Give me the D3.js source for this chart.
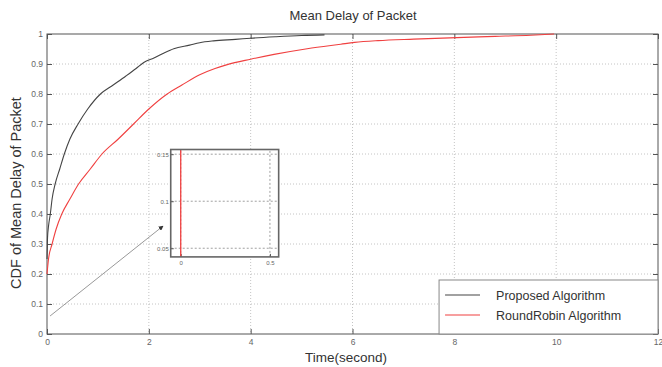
<!DOCTYPE html>
<html>
<head>
<meta charset="utf-8">
<script src="https://cdn.jsdelivr.net/npm/d3@7"></script>
<style>
  body { margin: 0; background: #fff; }
  text { font-family: "Liberation Sans", Arial, sans-serif; }
</style>
</head>
<body>
<div id="chart"></div>
<script>
// data
var xTicks = [0, 2, 4, 6, 8, 10, 12];
var yTicks = [0, 0.1, 0.2, 0.3, 0.4, 0.5, 0.6, 0.7, 0.8, 0.9, 1];
var proposedT = [0, 0.005, 0.01, 0.03, 0.065, 0.1, 0.16, 0.25, 0.34, 0.45, 0.61, 0.8, 1.05, 1.3, 1.55, 1.75, 1.9, 2.1, 2.3, 2.49, 2.8, 3.0, 3.27, 3.7, 4.0, 4.5, 5.0, 5.45];
var proposedY = [0.25, 0.28, 0.32, 0.36, 0.40, 0.45, 0.50, 0.55, 0.60, 0.65, 0.70, 0.75, 0.80, 0.83, 0.86, 0.885, 0.905, 0.92, 0.937, 0.951, 0.963, 0.971, 0.977, 0.982, 0.986, 0.991, 0.995, 0.997];
var rrT = [0, 0.03, 0.1, 0.18, 0.29, 0.45, 0.62, 0.85, 1.08, 1.4, 1.7, 2.0, 2.36, 2.65, 3.01, 3.3, 3.54, 4.0, 4.46, 5.11, 5.77, 6.04, 6.5, 7.2, 8.05, 8.8, 9.5, 9.96];
var rrY = [0.2, 0.25, 0.3, 0.35, 0.4, 0.45, 0.5, 0.55, 0.6, 0.65, 0.7, 0.75, 0.8, 0.83, 0.865, 0.885, 0.898, 0.916, 0.932, 0.951, 0.966, 0.972, 0.978, 0.983, 0.988, 0.992, 0.996, 1.0];
var insetXTicks = [0, 0.5];
var insetYTicks = [0.05, 0.1, 0.15];
var insetT = [0, 0];
var insetY = [0.0408, 0.155];
var seriesNames = ["Proposed Algorithm", "RoundRobin Algorithm"];
var seriesColors = ["#444", "#f04040"];

var W = 662, H = 367;
var margin = {top: 34, left: 47, right: 4, bottom: 33};
var width = W - margin.left - margin.right,
    height = H - margin.top - margin.bottom;

var svg = d3.select("#chart").append("svg")
  .attr("width", W).attr("height", H);

var g = svg.append("g")
  .attr("transform", "translate(" + margin.left + "," + margin.top + ")");

var x = d3.scaleLinear().domain([0, 12]).range([0, width]);
var y = d3.scaleLinear().domain([0, 1]).range([height, 0]);

// dotted grid
g.append("g").selectAll("line").data(xTicks.slice(1, -1)).enter().append("line")
  .attr("x1", function(d){ return x(d); }).attr("x2", function(d){ return x(d); })
  .attr("y1", 0).attr("y2", height)
  .attr("stroke", "#b5b5b5").attr("stroke-width", 0.8).attr("stroke-dasharray", "1,2");
g.append("g").selectAll("line").data(yTicks.slice(1, -1)).enter().append("line")
  .attr("y1", function(d){ return y(d); }).attr("y2", function(d){ return y(d); })
  .attr("x1", 0).attr("x2", width)
  .attr("stroke", "#b5b5b5").attr("stroke-width", 0.8).attr("stroke-dasharray", "1,2");

// axes with inward ticks
function styleAxis(sel, labels){
  sel.select(".domain").remove();
  sel.selectAll("line").attr("stroke", "#555");
  sel.selectAll("text").attr("fill", "#666").style("font-size", "8.5px");
  if (!labels) sel.selectAll("text").remove();
}
g.append("g").attr("transform", "translate(0," + height + ")")
  .call(d3.axisBottom(x).tickValues(xTicks).tickSize(-5).tickPadding(5).tickFormat(d3.format("")))
  .call(styleAxis, true);
g.append("g")
  .call(d3.axisLeft(y).tickValues(yTicks).tickSize(-5).tickPadding(4).tickFormat(d3.format("")))
  .call(styleAxis, true);
g.append("g")
  .call(d3.axisTop(x).tickValues(xTicks).tickSize(-5))
  .call(styleAxis, false);
g.append("g").attr("transform", "translate(" + width + ",0)")
  .call(d3.axisRight(y).tickValues(yTicks).tickSize(-5))
  .call(styleAxis, false);

g.append("rect").attr("width", width).attr("height", height)
  .attr("fill", "none").attr("stroke", "#555").attr("stroke-width", 1);

// curves
var line = d3.line()
  .curve(d3.curveMonotoneX)
  .x(function(d){ return x(d[0]); })
  .y(function(d){ return y(d[1]); });

g.append("path").datum(d3.zip(rrT, rrY))
  .attr("d", line).attr("fill", "none").attr("stroke", seriesColors[1]).attr("stroke-width", 1.1);
g.append("path").datum(d3.zip(proposedT, proposedY))
  .attr("d", line).attr("fill", "none").attr("stroke", seriesColors[0]).attr("stroke-width", 1.1);

// arrow
svg.append("defs").append("marker")
  .attr("id", "arrow").attr("viewBox", "0 0 10 10")
  .attr("refX", 9).attr("refY", 5)
  .attr("markerWidth", 5).attr("markerHeight", 5)
  .attr("orient", "auto")
  .append("path").attr("d", "M0,0L10,5L0,10z").attr("fill", "#333");

g.append("line")
  .attr("x1", x(0.06)).attr("y1", y(0.06))
  .attr("x2", x(2.28)).attr("y2", y(0.36))
  .attr("stroke", "#999").attr("stroke-width", 1)
  .attr("marker-end", "url(#arrow)");

// inset
var ix = d3.scaleLinear().domain([-0.056, 0.549]).range([x(2.43), x(4.55)]);
var iy = d3.scaleLinear().domain([insetY[0], insetY[1]]).range([y(0.257), y(0.615)]);
var inset = g.append("g");
inset.append("rect")
  .attr("x", ix.range()[0]).attr("y", iy.range()[1])
  .attr("width", ix.range()[1] - ix.range()[0]).attr("height", iy.range()[0] - iy.range()[1])
  .attr("fill", "#fff");
inset.append("g").selectAll("line").data(insetYTicks).enter().append("line")
  .attr("x1", ix.range()[0]).attr("x2", ix.range()[1])
  .attr("y1", function(d){ return iy(d); }).attr("y2", function(d){ return iy(d); })
  .attr("stroke", "#888").attr("stroke-width", 0.8).attr("stroke-dasharray", "2,2");
inset.append("g").selectAll("line").data(insetXTicks).enter().append("line")
  .attr("y1", iy.range()[0]).attr("y2", iy.range()[1])
  .attr("x1", function(d){ return ix(d); }).attr("x2", function(d){ return ix(d); })
  .attr("stroke", "#888").attr("stroke-width", 0.8).attr("stroke-dasharray", "2,2");
inset.append("g").attr("transform", "translate(0," + iy.range()[0] + ")")
  .call(d3.axisBottom(ix).tickValues(insetXTicks).tickSize(-3).tickPadding(4).tickFormat(d3.format("")))
  .call(function(s){ s.select(".domain").remove(); s.selectAll("text").attr("fill", "#666").style("font-size", "6px"); s.selectAll("line").attr("stroke", "#555"); });
inset.append("g").attr("transform", "translate(" + ix.range()[0] + ",0)")
  .call(d3.axisLeft(iy).tickValues(insetYTicks).tickSize(-3).tickPadding(2).tickFormat(d3.format("")))
  .call(function(s){ s.select(".domain").remove(); s.selectAll("text").attr("fill", "#666").style("font-size", "6px"); s.selectAll("line").attr("stroke", "#555"); });
inset.append("path").datum(d3.zip(insetT, insetY))
  .attr("d", d3.line().x(function(d){ return ix(d[0]); }).y(function(d){ return iy(d[1]); }))
  .attr("stroke", seriesColors[1]).attr("stroke-width", 1.3).attr("fill", "none");
inset.append("rect")
  .attr("x", ix.range()[0]).attr("y", iy.range()[1])
  .attr("width", ix.range()[1] - ix.range()[0]).attr("height", iy.range()[0] - iy.range()[1])
  .attr("fill", "none").attr("stroke", "#666").attr("stroke-width", 1.6);

// legend
var lx = x(7.7), ly = y(0.18);
var legend = g.append("g").attr("transform", "translate(" + lx + "," + ly + ")");
legend.append("rect").attr("width", width - lx).attr("height", height - ly)
  .attr("fill", "#fff").attr("stroke", "#888").attr("stroke-width", 1);
seriesNames.forEach(function(name, i){
  legend.append("line")
    .attr("x1", 6).attr("x2", 41)
    .attr("y1", 15 + i * 20).attr("y2", 15 + i * 20)
    .attr("stroke", seriesColors[i]).attr("stroke-width", 1.2);
  legend.append("text")
    .attr("x", 57).attr("y", 19.5 + i * 20)
    .attr("fill", "#333").style("font-size", "12.5px")
    .text(name);
});

// titles
svg.append("text").attr("x", 353).attr("y", 20).attr("text-anchor", "middle")
  .attr("fill", "#333").style("font-size", "13px").text("Mean Delay of Packet");
svg.append("text").attr("x", 346).attr("y", 362).attr("text-anchor", "middle")
  .attr("fill", "#333").style("font-size", "13.5px").text("Time(second)");
svg.append("text").attr("transform", "translate(21,193) rotate(-90)").attr("text-anchor", "middle")
  .attr("fill", "#333").style("font-size", "14.5px").text("CDF of Mean Delay of Packet");
</script>
</body>
</html>
